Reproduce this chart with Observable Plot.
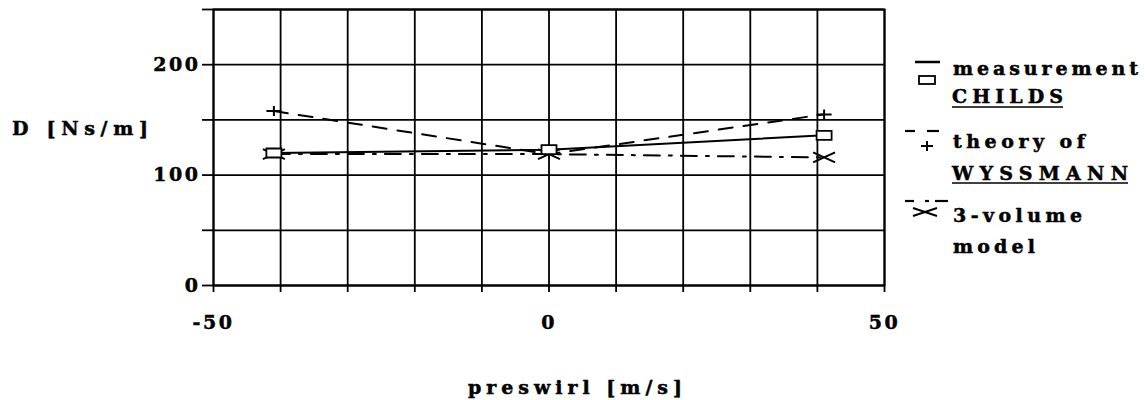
<!DOCTYPE html>
<html>
<head>
<meta charset="utf-8">
<script src="https://cdn.jsdelivr.net/npm/d3@7"></script>
<script src="https://cdn.jsdelivr.net/npm/@observablehq/plot@0.6"></script>
<style>
  html, body { margin: 0; padding: 0; background: #fff; }
  #chart svg { display: block; }
</style>
</head>
<body>
<div id="chart"></div>
<script>
// ---- data ----
const preswirl = [-41, 0, 41];
const childs = [120, 123, 136];
const wyssmann = [158, 119, 155];
const threeVolume = [119, 119, 116];

const xTicks = [-50, -40, -30, -20, -10, 0, 10, 20, 30, 40, 50];
const xTickLabels = [-50, 0, 50];
const yTicks = [0, 50, 100, 150, 200, 250];
const yTickLabels = [0, 100, 200];

const seriesNames = ["measurement CHILDS", "theory of WYSSMANN", "3-volume model"];
const seriesValues = [childs, wyssmann, threeVolume];

const rows = [];
seriesNames.forEach((name, i) => {
  preswirl.forEach((x, j) => rows.push({series: name, x, y: seriesValues[i][j]}));
});
const bySeries = name => rows.filter(d => d.series === name);

// ---- custom symbols ----
const rectSymbol = {draw(ctx) { ctx.moveTo(-7.5, -4.5); ctx.lineTo(7.5, -4.5); ctx.lineTo(7.5, 4.5); ctx.lineTo(-7.5, 4.5); ctx.closePath(); }};
const plusSymbol = {draw(ctx) { ctx.moveTo(-7.5, 0); ctx.lineTo(7.5, 0); ctx.moveTo(0, -5); ctx.lineTo(0, 5); }};
const crossSymbol = {draw(ctx) { ctx.moveTo(-11, -5); ctx.lineTo(11, 5); ctx.moveTo(-11, 5); ctx.lineTo(11, -5); }};

const font = "'DejaVu Serif', serif";

const plot = Plot.plot({
  width: 1145,
  height: 400,
  marginLeft: 213,
  marginRight: 261,
  marginTop: 9,
  marginBottom: 115,
  style: {fontFamily: font, fontWeight: "bold", fontSize: "19px", color: "black", background: "white"},
  x: {domain: [-50, 50]},
  y: {domain: [0, 250]},
  marks: [
    Plot.gridX(xTicks, {stroke: "black", strokeOpacity: 1, strokeWidth: 1.8}),
    Plot.gridY(yTicks, {stroke: "black", strokeOpacity: 1, strokeWidth: 1.8}),
    Plot.frame({stroke: "black", strokeWidth: 2}),
    Plot.axisX(xTicks, {
      tickSize: 7, tickPadding: 23, strokeWidth: 1.8,
      tickFormat: d => xTickLabels.includes(d) ? String(d) : "",
      fontSize: 19, fontWeight: "bold", fontFamily: font, label: null
    }),
    Plot.axisY(yTicks, {
      tickSize: 11, tickPadding: 2, strokeWidth: 1.8,
      tickFormat: d => yTickLabels.includes(d) ? String(d) : "",
      fontSize: 19, fontWeight: "bold", fontFamily: font, label: null
    }),
    Plot.line(bySeries(seriesNames[0]), {x: "x", y: "y", stroke: "black", strokeWidth: 2}),
    Plot.line(bySeries(seriesNames[1]), {x: "x", y: "y", stroke: "black", strokeWidth: 2, strokeDasharray: "14,11"}),
    Plot.line(bySeries(seriesNames[2]), {x: "x", y: "y", stroke: "black", strokeWidth: 2, strokeDasharray: "16,9,3,9"}),
    Plot.dot(bySeries(seriesNames[2]), {x: "x", y: "y", symbol: crossSymbol, r: 6, stroke: "black", strokeWidth: 2, fill: "none"}),
    Plot.dot(bySeries(seriesNames[1]), {x: "x", y: "y", symbol: plusSymbol, r: 6, stroke: "black", strokeWidth: 2, fill: "none"}),
    Plot.dot(bySeries(seriesNames[0]), {x: "x", y: "y", symbol: rectSymbol, r: 6, stroke: "black", strokeWidth: 1.8, fill: "white"})
  ]
});

document.getElementById("chart").appendChild(plot);

// tick labels: wide, heavy typewriter-like look
d3.select(plot).selectAll("text")
  .style("letter-spacing", "2.5px")
  .attr("stroke", "black").attr("stroke-width", 0.5);

// ---- axis titles & legend (decorations) ----
const svg = d3.select(plot);
const g = svg.append("g")
  .attr("font-family", font).attr("font-weight", "bold").attr("font-size", 19)
  .attr("fill", "black").attr("text-anchor", "start");

function label(text, x, y, len) {
  g.append("text").attr("x", x).attr("y", y)
    .attr("text-anchor", "start")
    .attr("stroke", "black").attr("stroke-width", 0.5)
    .attr("textLength", len).attr("lengthAdjust", "spacing").text(text);
}
function seg(x1, y1, x2, y2, w = 2) {
  g.append("line").attr("x1", x1).attr("y1", y1).attr("x2", x2).attr("y2", y2)
    .attr("stroke", "black").attr("stroke-width", w);
}

label("D [Ns/m]", 12, 135, 136);
label("preswirl [m/s]", 468, 394, 214);

// legend: measurement CHILDS
seg(915, 62, 940, 62, 2.5);
g.append("rect").attr("x", 919).attr("y", 76).attr("width", 16).attr("height", 8)
  .attr("fill", "white").attr("stroke", "black").attr("stroke-width", 1.8);
label("measurement", 953, 75, 185);
label("CHILDS", 952, 103, 111);
seg(952, 107, 1063, 107, 1.6);

// legend: theory of WYSSMANN
seg(905, 131, 915, 131, 2.2);
seg(927, 131, 939, 131, 2.2);
seg(921, 146, 933, 146, 2);
seg(927, 141, 927, 151, 2);
label("theory of", 953, 148, 132);
label("WYSSMANN", 952, 180, 176);
seg(952, 183, 1128, 183, 1.6);

// legend: 3-volume model
seg(905, 201, 914, 201, 2.2);
seg(925, 201, 929, 201, 2.2);
seg(935, 201, 948, 201, 2.2);
seg(913, 208, 937, 216, 2);
seg(913, 216, 937, 208, 2);
label("3-volume", 953, 222, 129);
label("model", 953, 253, 82);
</script>
</body>
</html>
